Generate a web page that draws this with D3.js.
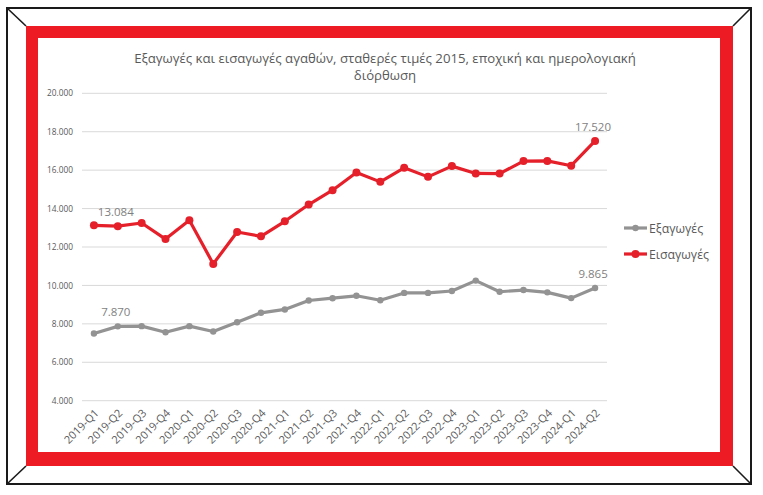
<!DOCTYPE html>
<html>
<head>
<meta charset="utf-8">
<script src="https://cdn.jsdelivr.net/npm/d3@7"></script>
<style>
  html, body { margin: 0; padding: 0; background: #fff; }
  svg { display: block; font-family: "Open Sans", "Noto Sans", sans-serif; }
</style>
</head>
<body>
<div id="chart"></div>
<script>
const quarters = ["2019-Q1","2019-Q2","2019-Q3","2019-Q4","2020-Q1","2020-Q2","2020-Q3","2020-Q4",
  "2021-Q1","2021-Q2","2021-Q3","2021-Q4","2022-Q1","2022-Q2","2022-Q3","2022-Q4",
  "2023-Q1","2023-Q2","2023-Q3","2023-Q4","2024-Q1","2024-Q2"];
const exportsVals = [7500, 7870, 7880, 7560, 7880, 7600, 8085, 8575, 8750, 9215, 9335, 9460,
  9230, 9610, 9610, 9710, 10250, 9670, 9760, 9640, 9340, 9865];
const importsVals = [13128, 13084, 13250, 12413, 13390, 11120, 12780, 12554, 13337, 14209, 14955, 15880,
  15390, 16120, 15650, 16210, 15830, 15820, 16470, 16480, 16230, 17520];
const yTicks = [4000, 6000, 8000, 10000, 12000, 14000, 16000, 18000, 20000];
const titleLines = ["Εξαγωγές και εισαγωγές αγαθών, σταθερές τιμές 2015, εποχική και ημερολογιακή", "διόρθωση"];

const series = [
  { name: "Εξαγωγές", values: exportsVals, color: "#939393", r: 3.2, labels: [1, 21] },
  { name: "Εισαγωγές", values: importsVals, color: "#e5202a", r: 4, labels: [1, 21] }
];

const W = 763, H = 495;
const red = "#ed1c24";
const greek = d3.formatLocale({ decimal: ",", thousands: ".", grouping: [3], currency: ["", "€"] });
const fmt = greek.format(",");

const svg = d3.select("#chart").append("svg")
  .attr("width", W).attr("height", H);

// picture frame
svg.append("rect").attr("x", 7).attr("y", 8).attr("width", 744).attr("height", 476)
  .attr("fill", "#fff").attr("stroke", "#1a1a1a").attr("stroke-width", 2);
[[7, 8, 26, 26], [751, 8, 733, 26], [7, 484, 26, 466], [751, 484, 733, 466]].forEach(d => {
  svg.append("line").attr("x1", d[0]).attr("y1", d[1]).attr("x2", d[2]).attr("y2", d[3])
    .attr("stroke", "#1a1a1a").attr("stroke-width", 1.6);
});
svg.append("rect").attr("x", 26).attr("y", 26).attr("width", 707).attr("height", 440).attr("fill", red);
svg.append("rect").attr("x", 38).attr("y", 38).attr("width", 682).attr("height", 414).attr("fill", "#fff");

// title
svg.append("text")
  .attr("text-anchor", "middle")
  .attr("fill", "#595959")
  .style("font-size", "13.2px")
  .selectAll("tspan").data(titleLines).join("tspan")
  .attr("x", 385)
  .attr("y", (d, i) => 63 + i * 17)
  .text(d => d);

const x = d3.scalePoint().domain(quarters).range([82, 607]).padding(0.5);
const y = d3.scaleLinear().domain([4000, 20000]).range([400.7, 93.3]);

// gridlines
svg.append("g").selectAll("line").data(yTicks).join("line")
  .attr("x1", 82).attr("x2", 607)
  .attr("y1", d => y(d)).attr("y2", d => y(d))
  .attr("stroke", "#d9d9d9").attr("stroke-width", 1);

// y axis labels
const yAxis = svg.append("g")
  .attr("transform", "translate(82,0)")
  .call(d3.axisLeft(y).tickValues(yTicks).tickFormat(fmt).tickSize(0).tickPadding(9));
yAxis.select(".domain").remove();
yAxis.selectAll("text").attr("fill", "#595959").style("font-size", "8.3px")
  .style("font-family", "'Open Sans', sans-serif");

// x axis labels
const xAxis = svg.append("g")
  .attr("transform", `translate(0,${y(4000)})`)
  .call(d3.axisBottom(x).tickSize(0).tickPadding(0));
xAxis.select(".domain").remove();
xAxis.selectAll("text")
  .attr("fill", "#595959")
  .style("font-size", "11px")
  .style("font-family", "'Open Sans', sans-serif")
  .attr("text-anchor", "end")
  .attr("dy", 0)
  .attr("transform", "translate(5,13) rotate(-45)");

// lines
const line = d3.line().x((d, i) => x(quarters[i])).y(d => y(d));
series.forEach(s => {
  const g = svg.append("g");
  g.append("path").datum(s.values)
    .attr("d", line).attr("fill", "none")
    .attr("stroke", s.color).attr("stroke-width", 3.2)
    .attr("stroke-linejoin", "round");
  g.selectAll("circle").data(s.values).join("circle")
    .attr("cx", (d, i) => x(quarters[i])).attr("cy", d => y(d))
    .attr("r", s.r).attr("fill", s.color);
  g.selectAll("text.lbl").data(s.labels).join("text")
    .attr("class", "lbl")
    .attr("x", i => x(quarters[i]) - 2)
    .attr("y", i => y(s.values[i]) - 10)
    .attr("text-anchor", "middle")
    .attr("fill", "#7f7f7f")
    .style("font-size", "11.5px")
    .text(i => fmt(s.values[i]));
});

// legend
const legend = svg.append("g").attr("transform", "translate(624,228)");
series.forEach((s, i) => {
  const row = legend.append("g").attr("transform", `translate(0,${i * 26})`);
  row.append("line").attr("x1", 0).attr("x2", 23).attr("y1", 0).attr("y2", 0)
    .attr("stroke", s.color).attr("stroke-width", 3.2);
  row.append("circle").attr("cx", 11.5).attr("cy", 0).attr("r", s.r).attr("fill", s.color);
  row.append("text").attr("x", 25).attr("y", 4.5)
    .attr("fill", "#595959").style("font-size", "12.3px").text(s.name);
});
</script>
</body>
</html>
